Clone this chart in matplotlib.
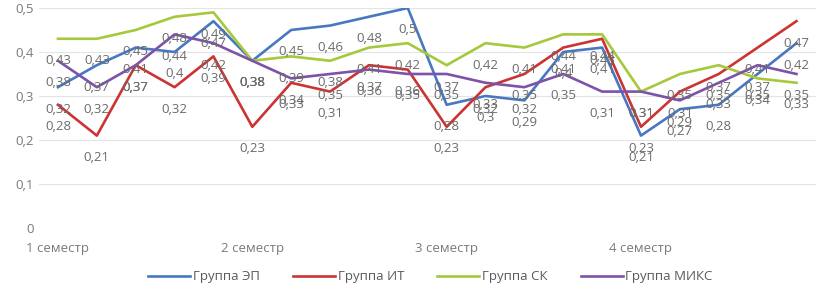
import matplotlib.pyplot as plt
import numpy as np

plt.rcParams['font.family'] = ['Open Sans', 'DejaVu Sans']

labels = ['1 семестр', '', '', '', '', '2 семестр', '', '', '', '', '3 семестр', '', '', '', '',
          '4 семестр', '', '', '', '']
ep = [0.32, 0.37, 0.41, 0.40, 0.47, 0.38, 0.45, 0.46, 0.48, 0.50,
      0.28, 0.30, 0.29, 0.40, 0.41, 0.21, 0.27, 0.28, 0.35, 0.42]
it = [0.28, 0.21, 0.37, 0.32, 0.39, 0.23, 0.33, 0.31, 0.37, 0.36,
      0.23, 0.32, 0.35, 0.41, 0.43, 0.23, 0.31, 0.35, 0.41, 0.47]
sk = [0.43, 0.43, 0.45, 0.48, 0.49, 0.38, 0.39, 0.38, 0.41, 0.42,
      0.37, 0.42, 0.41, 0.44, 0.44, 0.31, 0.35, 0.37, 0.34, 0.33]
miks = [0.38, 0.32, 0.37, 0.44, 0.42, 0.38, 0.34, 0.35, 0.36, 0.35,
        0.35, 0.33, 0.32, 0.35, 0.31, 0.31, 0.29, 0.33, 0.37, 0.35]

series = [('Группа ЭП', ep, '#4778c2'),
          ('Группа ИТ', it, '#cc3333'),
          ('Группа СК', sk, '#a6c83c'),
          ('Группа МИКС', miks, '#7d52a8')]

fig = plt.figure(figsize=(8.2, 2.95), dpi=100)
ax = fig.add_axes([0.047, 0.227, 0.948, 0.746])

x = np.arange(len(labels))
for name, vals, col in series:
    ax.plot(x, vals, color=col, lw=1.9, label=name)

for name, vals, col in series:
    for xi, v in zip(x, vals):
        ax.annotate(f'{v:g}'.replace('.', ','), (xi, v), xytext=(0, -22),
                    textcoords='offset pixels', ha='center', va='center',
                    fontsize=9.5, color='#6b6b6b')

ax.set_xlim(-0.5, len(labels) - 0.5)
ax.set_ylim(0, 0.5)
ax.set_yticks(np.arange(0, 0.51, 0.1))
ax.set_yticklabels(['0', '0,1', '0,2', '0,3', '0,4', '0,5'])
ax.set_xticks(x)
ax.set_xticklabels(labels)
ax.tick_params(length=0, colors='#7a7a7a', labelsize=9.5)
ax.tick_params(axis='x', pad=10)
ax.grid(axis='y', color='#e4e4e4', lw=0.8)
ax.set_axisbelow(True)
for s in ax.spines.values():
    s.set_visible(False)

fig.legend(loc='lower center', bbox_to_anchor=(0.525, 0.0), ncol=4, frameon=False,
           fontsize=9.5, handlelength=3.2, handletextpad=0.2, columnspacing=2.5,
           labelcolor='#595959')

fig.savefig('out.png', dpi=100)
